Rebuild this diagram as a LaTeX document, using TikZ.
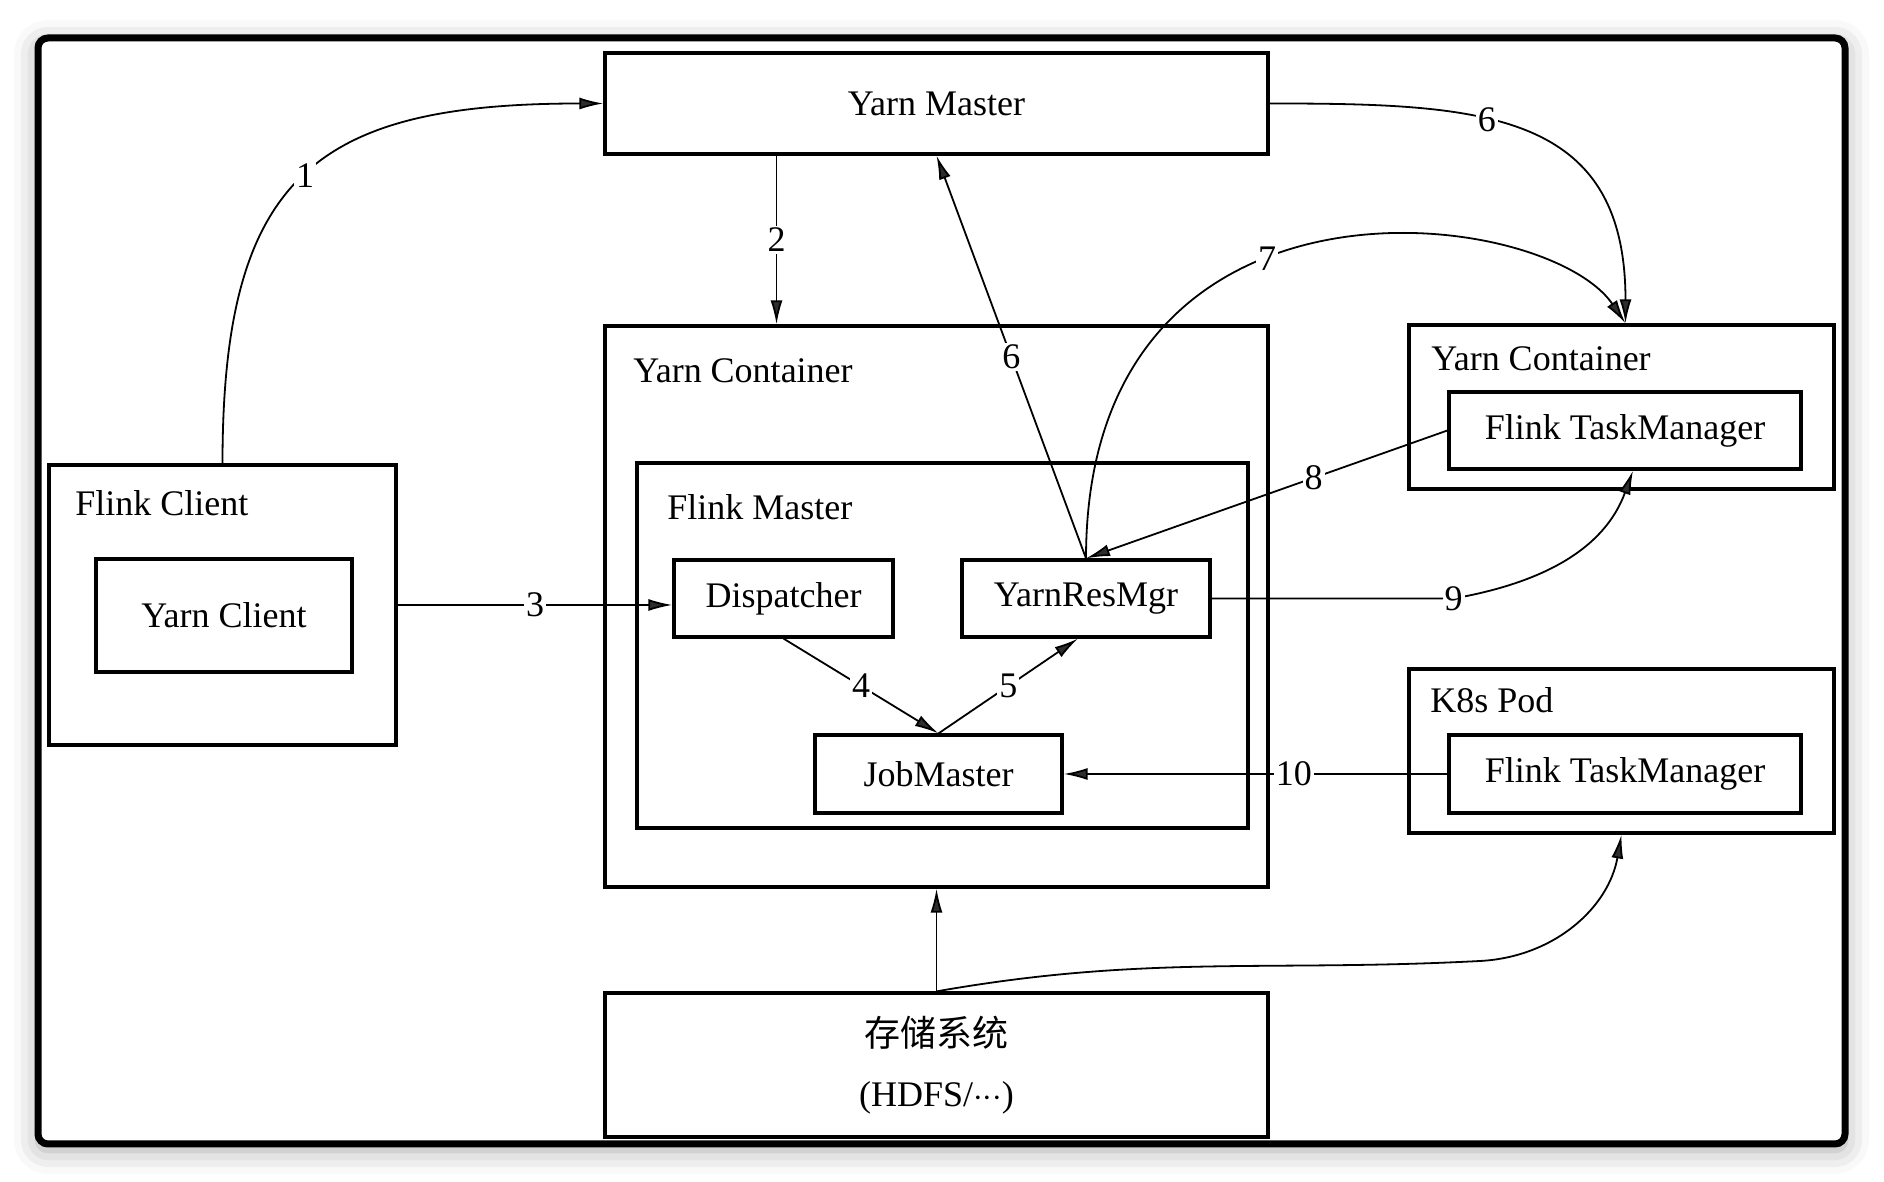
\documentclass[tikz,border=0pt]{standalone}
\usepackage{fontspec}
\setmainfont{Liberation Serif}
\newfontfamily\cjk{Noto Sans CJK SC}
\usetikzlibrary{arrows.meta,shadows.blur}

\begin{document}
\begin{tikzpicture}[x=0.5pt, y=0.5pt, font=\fontsize{18pt}{22pt}\selectfont,
  box/.style 2 args={draw, line width=1.6pt, minimum width=#1, minimum height=#2, inner sep=0pt},
  title/.style={anchor=base west, inner sep=0pt},
  num/.style={fill=white, inner sep=1pt},
  arr/.style={line width=0.9pt, -{Latex[length=12pt, width=6pt]}}]

\useasboundingbox (0,0) rectangle (1884,1182);
\draw[line width=3.5pt, rounded corners=5pt, fill=white, blur shadow={shadow xshift=0pt, shadow yshift=-3pt, shadow blur radius=12pt, shadow opacity=35}] (38,38) rectangle (1845,1144);

\draw (936.5,1078.5) node[box={331.5pt}{50.5pt}] (ym) {Yarn Master};
\draw (936.5,575.5) node[box={331.5pt}{280.5pt}] (yc) {};
\draw (942.5,536.5) node[box={305.5pt}{182.5pt}] (fm) {};
\draw (783.5,583.5) node[box={109.5pt}{38.5pt}] (disp) {Dispatcher};
\draw (1086,583.5) node[box={124pt}{38.5pt}] (yrm) {YarnResMgr};
\draw (938.5,408) node[box={123.5pt}{39pt}] (jm) {JobMaster};
\draw (222.5,577) node[box={173.5pt}{140pt}] (fc) {};
\draw (224,566.5) node[box={128pt}{56.5pt}] (ycl) {Yarn Client};
\draw (1621.5,775) node[box={212.5pt}{82pt}] (yc2) {};
\draw (1625,751.5) node[box={176pt}{38.5pt}] (tm1) {Flink TaskManager};
\draw (1621.5,431) node[box={212.5pt}{82pt}] (pod) {};
\draw (1625,408) node[box={176pt}{39pt}] (tm2) {Flink TaskManager};
\draw (936.5,117) node[box={331.5pt}{72pt}, align=center] (st) {{\cjk 存储系统}\\[8pt](HDFS/${\cdot}{\cdot}{\cdot}$)};

\draw (633,799) node[title] (yclab) {Yarn Container};
\draw (667,662) node[title] (fmlab) {Flink Master};
\draw (75,666) node[title] (fclab) {Flink Client};
\draw (1431,811) node[title] (yc2lab) {Yarn Container};
\draw (1430,469) node[title] (podlab) {K8s Pod};

\coordinate (kc) at (1480,221);

\draw[arr] (fc.north) to[out=90, in=180, looseness=1.4] node[num] {1} (ym.west);
\draw[arr] ([xshift=-80pt]ym.south) -- node[num] {2} ([xshift=-80pt]yc.north);
\draw[arr] (fc.east) -- node[num] {3} (fc.east -| disp.west);
\draw[arr] (disp.south) -- node[num] {4} (jm.north);
\draw[arr] (jm.north) -- node[num] {5} ([xshift=-4pt]yrm.south);
\draw[arr] (yrm.north) -- node[num] {6} (ym.south);
\draw[arr] (ym.east) to[out=0, in=90, looseness=1.3] node[num, pos=0.4] {6} ([xshift=2pt]yc2.north);
\draw[arr] (yrm.north) .. controls +(0,410) and +(-80,118) .. node[num, pos=0.42] {7} ([xshift=2pt]yc2.north);
\draw[arr] (tm1.west) -- node[num, pos=0.37] {8} (yrm.north);
\draw[arr] (yrm.east) -- ++(242,0) node[num] {9} to[out=10, in=-110] ([xshift=4pt]tm1.south);
\draw[arr] (tm2.west) -- node[num, pos=0.4] {10} (jm.east);
\draw[arr] (st.north) -- (yc.south);
\draw[arr] (st.north) to[out=10, in=183] (kc) to[out=3, in=-100] (pod.south);

\end{tikzpicture}
\end{document}
